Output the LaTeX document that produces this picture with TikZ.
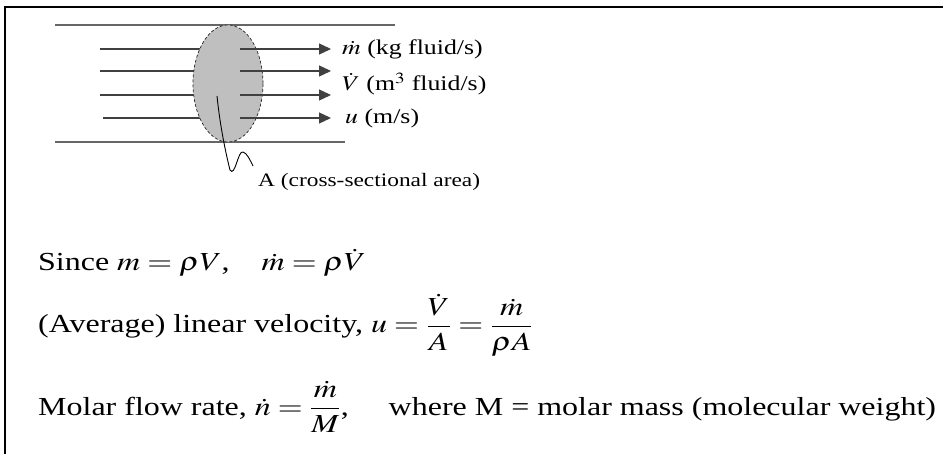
\documentclass[tikz,border=0pt]{standalone}
\usepackage{amsmath}
\usepackage{graphicx}
\usepackage{mathptmx}
\usepackage{fontspec}
\setmainfont{Liberation Serif}
\usetikzlibrary{arrows.meta,positioning,shapes.geometric}
% the scanned text is a little wider than Times
\newcommand{\widetext}[1]{\scalebox{1.23}[1]{#1}}

\begin{document}
\begin{tikzpicture}[x=1pt, y=-1pt, >={Triangle[length=12pt, width=11pt]},
  pipe/.style={draw=black!60, line width=1.4pt},
  flow/.style={draw=black!75, line width=1.3pt},
  lab/.style={anchor=west, inner sep=0pt, font=\fontsize{21}{24}\selectfont},
  eqn/.style={anchor=base west, inner sep=0pt, font=\fontsize{26}{31}\selectfont}]
  \useasboundingbox (0,0) rectangle (943,454);
  % frame (cut at the right and at the bottom)
  \draw[line width=2pt] (5,454) -- (5,7) -- (943,7);
  % pipe walls
  \draw[pipe] (55,25) -- (395,25);
  \draw[pipe] (55,142) -- (345,142);
  % streamlines in front of the area
  \foreach \y/\x in {49/100, 71/100, 95/100, 118/103}
    \draw[flow] (\x,\y) -- (228,\y);
  \node (area) [ellipse, draw=black!85, densely dashed, line width=0.7pt, fill=black!25,
    minimum width=70pt, minimum height=117pt, inner sep=0pt] at (228,83.5) {};
  % streamlines leaving the area
  \foreach \y in {49, 71, 95, 118}
    \draw[flow, ->] (240,\y) -- (331,\y);
  \node (mdot) [lab] at (342,49) {\widetext{$\dot{m}$ (kg fluid/s)}};
  \node (vdot) [lab] at (342,84) {\widetext{$\dot{V}$ (m$^{3}$ fluid/s)}};
  \node (vel) [lab] at (345,118) {\widetext{$u$ (m/s)}};
  \node (csa) [lab, font=\fontsize{19}{22}\selectfont] at (258,182) {\widetext{A (cross-sectional area)}};
  \coordinate (tail) at (217,96);
  \draw[line width=0.9pt] (tail) .. controls (220,125) and (225,150) .. (230,170)
    .. controls (235,178) and (238,150) .. (243,152)
    .. controls (247,153) and (250,160) .. (253,166);
  % relations
  \node (since) [eqn] at (38,271) {\widetext{Since $m = \rho V$,\quad $\dot{m} = \rho\dot{V}$}};
  \node (avg) [eqn] at (38,333) {\widetext{(Average) linear velocity, $u = \dfrac{\dot{V}}{A} = \dfrac{\dot{m}}{\rho A}$}};
  \node (molar) [eqn] at (38,415) {\widetext{Molar flow rate, $\dot{n} = \dfrac{\dot{m}}{M}$,\quad\ where M = molar mass (molecular weight)}};
\end{tikzpicture}
\end{document}
